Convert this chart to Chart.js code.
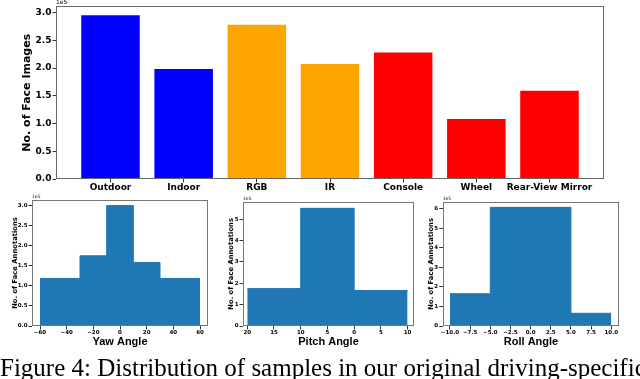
<!DOCTYPE html>
<html>
<head>
  <meta charset="utf-8" />
  <title>Figure 4</title>
  <script src="https://cdn.jsdelivr.net/npm/chart.js"></script>
  <style>
    body { margin: 0; background: #fff; width: 640px; height: 379px; overflow: hidden; position: relative; }
    canvas { position: absolute; }
    #caption { position: absolute; left: 0; top: 355px; font-family: 'Liberation Serif', serif; font-size: 25px; line-height: 1; white-space: nowrap; color: #000; }
  </style>
</head>
<body>
  <canvas id="top" width="640" height="195" style="left:0;top:0"></canvas>
  <canvas id="yaw" width="215" height="159" style="left:0;top:190px"></canvas>
  <canvas id="pitch" width="207" height="159" style="left:215px;top:190px"></canvas>
  <canvas id="roll" width="218" height="159" style="left:422px;top:190px"></canvas>
  <div id="caption">Figure 4: Distribution of samples in our original driving-specific</div>
  <script>
    // top: face images per condition (x1e5)
    const categories = ['Outdoor', 'Indoor', 'RGB', 'IR', 'Console', 'Wheel', 'Rear-View Mirror'];
    const faceImages = [2.95, 1.98, 2.78, 2.07, 2.28, 1.08, 1.59];
    const barColors = ['#0000ff', '#0000ff', '#ffa500', '#ffa500', '#ff0000', '#ff0000', '#ff0000'];
    const topYTicks = [0, 0.5, 1.0, 1.5, 2.0, 2.5, 3.0];

    // bottom: head pose histograms (x1e5)
    const yawEdges = [-60, -30, -10, 10, 30, 60];
    const yawCounts = [1.185, 1.75, 3.0, 1.58, 1.185];
    const yawXTicks = [-60, -40, -20, 0, 20, 40, 60];
    const yawYTicks = [0, 0.5, 1.0, 1.5, 2.0, 2.5, 3.0];

    const pitchEdges = [-20, -10, 0, 10];
    const pitchCounts = [1.75, 5.51, 1.66];
    const pitchXTicks = [-20, -15, -10, -5, 0, 5, 10];
    const pitchXLabels = ['20', '15', '10', '5', '0', '5', '10'];
    const pitchYTicks = [0, 1, 2, 3, 4, 5];

    const rollEdges = [-10, -5, 5, 10];
    const rollCounts = [1.65, 6.07, 0.65];
    const rollXTicks = [-10, -7.5, -5, -2.5, 0, 2.5, 5, 7.5, 10];
    const rollYTicks = [0, 1, 2, 3, 4, 5, 6];

    const MINUS = '\u2212';
    const fmt = (v, d) => (v < 0 ? MINUS : '') + Math.abs(v).toFixed(d);

    // matplotlib-like frame + offset text
    const framePlugin = {
      id: 'frame',
      afterDatasetsDraw(chart, args, opts) {
        const a = chart.chartArea;
        const ctx = chart.ctx;
        ctx.save();
        ctx.strokeStyle = opts.color || '#555';
        ctx.lineWidth = 1;
        const l = Math.round(a.left) + 0.5, t = Math.round(a.top) + 0.5;
        const r = Math.round(a.right) - 0.5, b = Math.round(a.bottom) - 0.5;
        ctx.strokeRect(l, t, r - l, b - t);
        if (opts.offsetText) {
          ctx.fillStyle = '#000';
          ctx.font = opts.offsetFont;
          ctx.textAlign = 'left';
          ctx.textBaseline = 'bottom';
          ctx.fillText(opts.offsetText, a.left, a.top - 1);
        }
        ctx.restore();
      }
    };

    const tickGrid = { offset: false, drawOnChartArea: false, drawTicks: true, tickLength: 3.5, color: '#000', lineWidth: 0.8 };

    // ---- top bar chart ----
    new Chart(document.getElementById('top'), {
      type: 'bar',
      data: {
        datasets: [{
          data: faceImages.map((v, i) => ({ x: i, y: v })),
          backgroundColor: barColors,
          borderWidth: 0,
          categoryPercentage: 1,
          barPercentage: 0.8
        }]
      },
      plugins: [framePlugin],
      options: {
        responsive: false,
        animation: false,
        layout: { padding: { left: 20.4, top: 6, right: 36, bottom: 0 } },
        plugins: {
          legend: { display: false },
          tooltip: { enabled: false },
          frame: { color: '#666', offsetText: '1e5', offsetFont: '6px DejaVu Sans' }
        },
        scales: {
          x: {
            type: 'linear', min: -0.745, max: 6.745, offset: false,
            afterBuildTicks: (s) => { s.ticks = categories.map((c, i) => ({ value: i })); },
            afterFit: (s) => { s.height = 16; },
            grid: tickGrid,
            border: { display: false },
            ticks: {
              autoSkip: false, maxRotation: 0, minRotation: 0, padding: 0, color: '#000',
              font: { family: 'DejaVu Sans', size: 9, weight: 'bold' },
              callback: (v) => categories[v]
            }
          },
          y: {
            min: 0, max: 3.11,
            afterBuildTicks: (s) => { s.ticks = topYTicks.map(v => ({ value: v })); },
            afterFit: (s) => { s.width = 35.6; },
            grid: tickGrid,
            border: { display: false },
            title: {
              display: true, text: 'No. of Face Images', color: '#000', padding: 0,
              font: { family: 'DejaVu Sans', size: 11, weight: 'bold' }
            },
            ticks: {
              padding: 1, color: '#000',
              font: { family: 'DejaVu Sans', size: 9, weight: 'bold' },
              callback: (v) => fmt(v, 1)
            }
          }
        }
      }
    });

    // ---- histograms ----
    function stepPoints(edges, counts) {
      return edges.map((e, i) => ({ x: e, y: counts[Math.min(i, counts.length - 1)] }));
    }

    function makeHist(id, cfg) {
      return new Chart(document.getElementById(id), {
        type: 'line',
        data: {
          datasets: [{
            data: stepPoints(cfg.edges, cfg.counts),
            stepped: 'before',
            fill: 'origin',
            backgroundColor: '#1f77b4',
            borderColor: '#1f77b4',
            borderWidth: 1,
            pointRadius: 0
          }]
        },
        plugins: [framePlugin],
        options: {
          responsive: false,
          animation: false,
          layout: { padding: cfg.padding },
          plugins: {
            legend: { display: false },
            tooltip: { enabled: false },
            frame: { color: '#777', offsetText: '1e5', offsetFont: '4.5px DejaVu Sans' }
          },
          scales: {
            x: {
              type: 'linear', min: cfg.xMin, max: cfg.xMax,
              afterBuildTicks: (s) => { s.ticks = cfg.xTicks.map(v => ({ value: v })); },
              afterFit: (s) => { s.height = 23; },
              grid: tickGrid,
              border: { display: false },
              title: {
                display: true, text: cfg.title, color: '#000', padding: 0,
                font: { family: 'Liberation Sans', size: 11, weight: 'bold' }
              },
              ticks: {
                autoSkip: false, maxRotation: 0, minRotation: 0, padding: 0, color: '#000',
                font: { family: 'DejaVu Sans', size: 5.5, weight: 'bold' },
                callback: cfg.xLabel
              }
            },
            y: {
              min: 0, max: cfg.yMax,
              afterBuildTicks: (s) => { s.ticks = cfg.yTicks.map(v => ({ value: v })); },
              afterFit: (s) => { s.width = cfg.yWidth; },
              grid: tickGrid,
              border: { display: false },
              title: {
                display: true, text: 'No. of Face Annotations', color: '#000', padding: 0,
                font: { family: 'DejaVu Sans', size: 6.8, weight: 'bold' }
              },
              ticks: {
                padding: 1, color: '#000',
                font: { family: 'DejaVu Sans', size: 5.5, weight: 'bold' },
                callback: cfg.yLabel
              }
            }
          }
        }
      });
    }

    makeHist('yaw', {
      edges: yawEdges, counts: yawCounts, title: 'Yaw Angle',
      xMin: -66, xMax: 66, xTicks: yawXTicks, xLabel: (v) => fmt(v, 0),
      yMax: 3.14, yTicks: yawYTicks, yLabel: (v) => fmt(v, 1),
      padding: { left: 10.9, top: 10, right: 7, bottom: 0 }, yWidth: 21.1
    });

    makeHist('pitch', {
      edges: pitchEdges, counts: pitchCounts, title: 'Pitch Angle',
      xMin: -20.8, xMax: 11.2, xTicks: pitchXTicks,
      xLabel: (v) => pitchXLabels[pitchXTicks.indexOf(v)],
      yMax: 5.82, yTicks: pitchYTicks, yLabel: (v) => fmt(v, 0),
      padding: { left: 12.4, top: 11.7, right: 8, bottom: 0 }, yWidth: 15.6
    });

    makeHist('roll', {
      edges: rollEdges, counts: rollCounts, title: 'Roll Angle',
      xMin: -10.9, xMax: 11, xTicks: rollXTicks, xLabel: (v) => fmt(v, 1),
      yMax: 6.36, yTicks: rollYTicks, yLabel: (v) => fmt(v, 0),
      padding: { left: 4.9, top: 11.7, right: 20.7, bottom: 0 }, yWidth: 15.8
    });
  </script>
</body>
</html>
